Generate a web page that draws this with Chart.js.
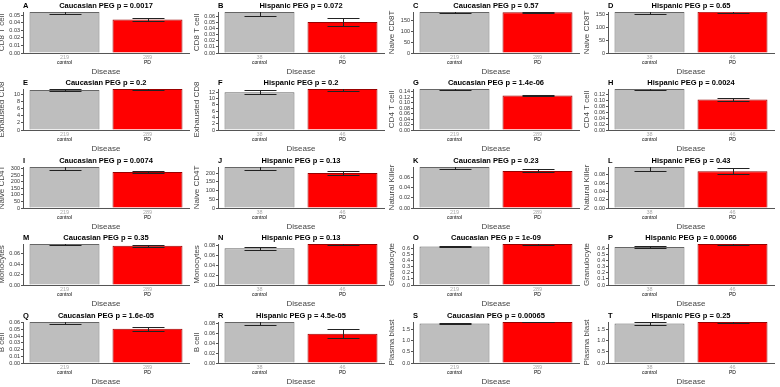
<!DOCTYPE html>
<html>
<head>
<meta charset="utf-8">
<script src="https://cdn.jsdelivr.net/npm/chart.js@4.4.0/dist/chart.umd.min.js"></script>
<style>
  html, body { margin: 0; padding: 0; background: #fff; }
  body { width: 780px; height: 387px; position: relative; overflow: hidden; }
  canvas { position: absolute; }
</style>
</head>
<body>
<script>
const categories = ['control', 'PD'];
const letters = ['A','B','C','D','E','F','G','H','I','J','K','L','M','N','O','P','Q','R','S','T'];
const cohorts = ['Caucasian','Hispanic','Caucasian','Hispanic','Caucasian','Hispanic','Caucasian','Hispanic','Caucasian','Hispanic',
                 'Caucasian','Hispanic','Caucasian','Hispanic','Caucasian','Hispanic','Caucasian','Hispanic','Caucasian','Hispanic'];
const pValues = ['0.0017','0.072','0.57','0.65','0.2','0.2','1.4e-06','0.0024','0.0074','0.13',
                 '0.23','0.43','0.35','0.13','1e-09','0.00066','1.6e-05','4.5e-05','0.00065','0.25'];
const cellTypes = ['CD8 T cell','CD8 T cell','Naive CD8T','Naive CD8T','Exhausted CD8','Exhausted CD8','CD4 T cell','CD4 T cell',
                   'Naive CD4T','Naive CD4T','Natural Killer','Natural Killer','Monocytes','Monocytes','Granulocyte','Granulocyte',
                   'B cell','B cell','Plasma blast','Plasma blast'];
const groupSizes = { Caucasian: [219, 289], Hispanic: [38, 46] };

const yTickLabels = [
  ['0.00','0.01','0.02','0.03','0.04','0.05'],
  ['0.00','0.01','0.02','0.03','0.04','0.05','0.06'],
  ['0','50','100','150'],
  ['0','50','100','150'],
  ['0','2','4','6','8','10'],
  ['0','2','4','6','8','10','12'],
  ['0.00','0.02','0.04','0.06','0.08','0.10','0.12','0.14'],
  ['0.00','0.02','0.04','0.06','0.08','0.10','0.12'],
  ['0','50','100','150','200','250','300'],
  ['0','50','100','150','200'],
  ['0.00','0.02','0.04','0.06'],
  ['0.00','0.02','0.04','0.06','0.08'],
  ['0.00','0.02','0.04','0.06'],
  ['0.00','0.02','0.04','0.06','0.08'],
  ['0.0','0.1','0.2','0.3','0.4','0.5','0.6'],
  ['0.0','0.1','0.2','0.3','0.4','0.5','0.6'],
  ['0.00','0.01','0.02','0.03','0.04','0.05','0.06'],
  ['0.00','0.02','0.04','0.06','0.08'],
  ['0.0','0.5','1.0','1.5'],
  ['0.0','0.5','1.0','1.5']
];
const yAxisMax  = [0.0545, 0.067, 187, 159, 11.4, 13.0, 0.150, 0.137, 312, 235,
                   0.0805, 0.099, 0.0788, 0.082, 0.67, 0.67, 0.0614, 0.082, 1.82, 1.82];
const controlMean = [0.0545, 0.067, 187, 159, 11.1, 12.0, 0.150, 0.137, 312, 235,
                     0.0805, 0.099, 0.0788, 0.0735, 0.63, 0.62, 0.0614, 0.082, 1.75, 1.75];
const controlSE   = [0.003, 0.006, 3, 9, 0.25, 0.55, 0.003, 0.005, 22, 15,
                     0.004, 0.009, 0.0015, 0.003, 0.01, 0.02, 0.003, 0.006, 0.03, 0.05];
const pdMean = [0.0444, 0.0505, 186, 160, 11.4, 13.0, 0.1265, 0.102, 274, 200,
                0.0728, 0.089, 0.0756, 0.082, 0.67, 0.67, 0.0513, 0.0585, 1.82, 1.82];
const pdSE   = [0.0025, 0.0063, 3, 6, 0.2, 0.5, 0.0025, 0.006, 8, 10,
                0.003, 0.007, 0.002, 0.002, 0.01, 0.01, 0.0028, 0.0088, 0.02, 0.04];

const FONT = "'Liberation Sans', Arial, Helvetica, sans-serif";

// error bars, group sizes, category names, title and panel letter
const panelDecor = {
  id: 'panelDecor',
  afterDatasetsDraw(chart, args, opts) {
    const { ctx, chartArea, scales: { x, y } } = chart;
    const p = opts.panel;
    const ends = [[controlMean[p], controlSE[p]], [pdMean[p], pdSE[p]]];

    ctx.save();
    ctx.beginPath();
    ctx.rect(chartArea.left, chartArea.top, chartArea.right - chartArea.left, chartArea.bottom - chartArea.top);
    ctx.clip();
    ctx.strokeStyle = '#222';
    ctx.lineWidth = 1;
    ends.forEach(([m, se], k) => {
      const cx = Math.round(x.getPixelForValue(k)) + 0.5;
      const hi = Math.round(y.getPixelForValue(m + se)) + 0.5;
      const lo = Math.round(y.getPixelForValue(m - se)) + 0.5;
      ctx.beginPath();
      ctx.moveTo(cx, hi); ctx.lineTo(cx, lo);
      ctx.moveTo(cx - 16, hi); ctx.lineTo(cx + 16, hi);
      ctx.moveTo(cx - 16, lo); ctx.lineTo(cx + 16, lo);
      ctx.stroke();
    });
    ctx.restore();

    ctx.save();
    ctx.textAlign = 'center';
    ctx.textBaseline = 'middle';
    const sizes = groupSizes[cohorts[p]];
    categories.forEach((c, k) => {
      const cx = x.getPixelForValue(k);
      ctx.fillStyle = '#aaa';
      ctx.font = '5.5px ' + FONT;
      ctx.fillText(String(sizes[k]), cx, chartArea.bottom + 4);
      ctx.fillStyle = '#000';
      ctx.font = '5px ' + FONT;
      ctx.fillText(c, cx, chartArea.bottom + 10);
    });
    const mid = (chartArea.left + chartArea.right) / 2;
    ctx.fillStyle = '#000';
    ctx.font = 'bold 7.5px ' + FONT;
    ctx.fillText(cohorts[p] + ' PEG p = ' + pValues[p], mid, 6);
    ctx.textAlign = 'left';
    ctx.fillText(letters[p], chartArea.left, 6);
    ctx.restore();
  }
};

letters.forEach((letter, i) => {
  const col = i % 4, row = Math.floor(i / 4);
  const canvas = document.createElement('canvas');
  canvas.width = 201;
  canvas.height = 78;
  canvas.style.left = (col * 195 - 6) + 'px';
  canvas.style.top = Math.round(row * 77.4) + 'px';
  document.body.appendChild(canvas);

  const ticks = yTickLabels[i];
  new Chart(canvas, {
    type: 'bar',
    data: {
      labels: categories,
      datasets: [{
        data: [controlMean[i], pdMean[i]],
        backgroundColor: ['#bebebe', '#ff0000'],
        borderColor: ['#666', '#900'],
        borderWidth: 1,
        barPercentage: 1,
        categoryPercentage: 0.843,
        clip: 0
      }]
    },
    options: {
      responsive: false,
      animation: false,
      devicePixelRatio: 1,
      layout: { padding: { top: 12, right: 6, left: 0, bottom: 0 } },
      plugins: {
        legend: { display: false },
        tooltip: { enabled: false },
        title: { display: false },
        panelDecor: { panel: i }
      },
      scales: {
        x: {
          grid: { display: false },
          border: { color: '#555' },
          ticks: { display: false },
          title: { display: true, text: 'Disease', color: '#444', font: { family: FONT, size: 8 }, padding: { top: 0, bottom: 1 } },
          afterFit: s => { s.height = 25; }
        },
        y: {
          min: 0,
          max: yAxisMax[i],
          grid: { drawOnChartArea: false, tickLength: 2, color: '#555' },
          border: { color: '#555' },
          ticks: {
            autoSkip: false,
            font: { family: FONT, size: 5.5 },
            color: '#333',
            padding: 1,
            callback: (v, idx) => ticks[idx]
          },
          afterBuildTicks: s => { s.ticks = ticks.map(t => ({ value: parseFloat(t) })); },
          title: { display: true, text: cellTypes[i], color: '#444', font: { family: FONT, size: 8 }, padding: { top: 2.5, bottom: 0 } },
          afterFit: s => { s.width = 29; }
        }
      }
    },
    plugins: [panelDecor]
  });
});
</script>
</body>
</html>
